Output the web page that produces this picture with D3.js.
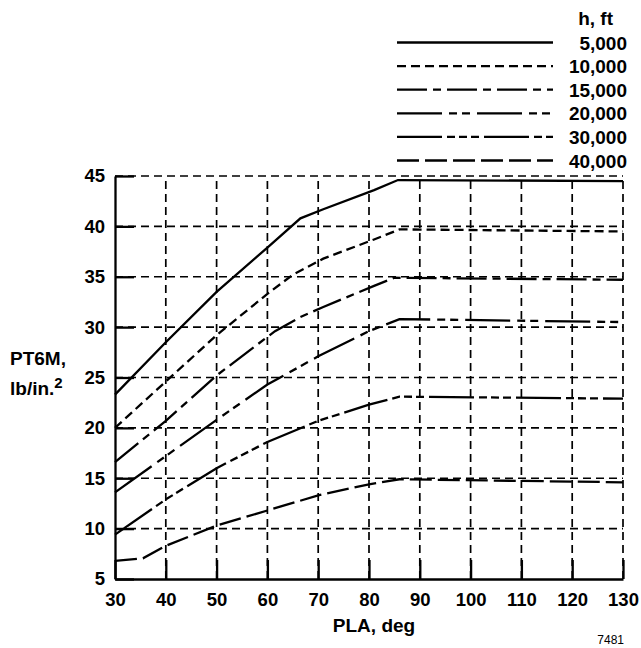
<!DOCTYPE html>
<html>
<head>
<meta charset="utf-8">
<script src="https://cdn.jsdelivr.net/npm/d3@7"></script>
<style>
    body { margin: 0; background: #fff; }
    svg { font-family: "Liberation Sans", Arial, sans-serif; font-weight: bold; }
</style>
</head>
<body>
<svg id="chart" width="641" height="648"></svg>
<script>
// PT6M vs PLA for several altitudes
const ALTITUDES = ['5,000', '10,000', '15,000', '20,000', '30,000', '40,000'];

// [PLA deg, PT6M lb/in.^2]
const H5000  = [[30, 23.3], [40, 28.5], [50, 33.5], [60, 37.9], [66.5, 40.8], [71, 41.7], [81, 43.6], [85.7, 44.6], [130, 44.5]];
const H10000 = [[30, 20.0], [40, 24.6], [50, 29.2], [60, 33.3], [65, 35.2], [71, 36.8], [81, 38.7], [86, 39.7], [130, 39.5]];
const H15000 = [[30, 16.6], [40, 20.7], [50, 25.2], [61.5, 29.6], [66.5, 31.0], [71, 32.0], [81, 34.1], [85, 34.9], [130, 34.7]];
const H20000 = [[30, 13.6], [40, 17.2], [50, 20.8], [60, 24.3], [70, 27.1], [80, 29.6], [86, 30.8], [130, 30.5]];
const H30000 = [[30, 9.4], [40, 12.9], [50, 16.0], [60, 18.6], [70, 20.7], [80, 22.3], [86, 23.1], [130, 22.9]];
const H40000 = [[30, 6.8], [35.5, 7.05], [40, 8.3], [50, 10.3], [60, 11.8], [70, 13.3], [80, 14.4], [86, 14.9], [130, 14.6]];
const SERIES = [H5000, H10000, H15000, H20000, H30000, H40000];

const X_TICKS = [30, 40, 50, 60, 70, 80, 90, 100, 110, 120, 130];
const Y_TICKS = [5, 10, 15, 20, 25, 30, 35, 40, 45];

// line styles per altitude (same order as ALTITUDES)
const DASHES = [null, '9,5', '30,6,8,6', '45,7,8,5,8,7', '45,5,8,4,8,4,8,5', '22,6'];

const PLOT = { left: 115, right: 623, top: 176, bottom: 579 };

const svg = d3.select('#chart');

const x = d3.scaleLinear().domain([30, 130]).range([PLOT.left, PLOT.right]);
const y = d3.scaleLinear().domain([5, 45]).range([PLOT.bottom, PLOT.top]);

// dashed grid (top and right edges are grid lines too)
const grid = svg.append('g')
    .attr('stroke', '#000')
    .attr('stroke-width', 1.7)
    .attr('stroke-dasharray', '8,5');

grid.selectAll('line.h')
    .data(Y_TICKS.slice(1))
    .join('line')
    .attr('class', 'h')
    .attr('x1', x(30)).attr('x2', x(130))
    .attr('y1', d => y(d)).attr('y2', d => y(d));

grid.selectAll('line.v')
    .data(X_TICKS.slice(1))
    .join('line')
    .attr('class', 'v')
    .attr('y1', y(5)).attr('y2', y(45))
    .attr('x1', d => x(d)).attr('x2', d => x(d));

// axes with inward solid ticks
const xAxis = svg.append('g')
    .attr('transform', `translate(0,${PLOT.bottom})`)
    .call(d3.axisBottom(x).tickValues(X_TICKS).tickSize(-19).tickSizeOuter(0).tickPadding(14));

const yAxis = svg.append('g')
    .attr('transform', `translate(${PLOT.left},0)`)
    .call(d3.axisLeft(y).tickValues(Y_TICKS).tickSize(-19).tickSizeOuter(0).tickPadding(10));

[xAxis, yAxis].forEach(ax => {
    ax.select('.domain').attr('stroke-width', 2.3);
    ax.selectAll('.tick line').attr('stroke-width', 2.3);
    ax.selectAll('.tick text')
        .attr('font-size', 18.5)
        .attr('font-weight', 'bold')
        .attr('font-family', '"Liberation Sans", Arial, sans-serif')
        .attr('fill', '#000');
});

// curves
const line = d3.line()
    .x(d => x(d[0]))
    .y(d => y(d[1]));

svg.append('g')
    .selectAll('path')
    .data(SERIES)
    .join('path')
    .attr('fill', 'none')
    .attr('stroke', '#000')
    .attr('stroke-width', 2.3)
    .attr('stroke-dasharray', (d, i) => DASHES[i])
    .attr('d', line);

// legend
const legend = svg.append('g');
legend.append('text')
    .attr('x', 613).attr('y', 25)
    .attr('text-anchor', 'end')
    .attr('font-size', 19)
    .text('h, ft');

const rows = legend.selectAll('g.row')
    .data(ALTITUDES)
    .join('g')
    .attr('class', 'row')
    .attr('transform', (d, i) => `translate(0,${42.5 + i * 23.6})`);

rows.append('line')
    .attr('x1', 397).attr('x2', 553)
    .attr('stroke', '#000')
    .attr('stroke-width', 2.3)
    .attr('stroke-dasharray', (d, i) => DASHES[i]);

rows.append('text')
    .attr('x', 627).attr('y', 7)
    .attr('text-anchor', 'end')
    .attr('font-size', 19)
    .text(d => d);

// axis titles
svg.append('text')
    .attr('x', 374).attr('y', 632)
    .attr('text-anchor', 'middle')
    .attr('font-size', 19)
    .text('PLA, deg');

const yTitle = svg.append('text').attr('font-size', 19);
yTitle.append('tspan').attr('x', 10).attr('y', 365).text('PT6M,');
yTitle.append('tspan').attr('x', 10).attr('y', 395).text('lb/in.');
yTitle.append('tspan').attr('dy', -7).attr('font-size', 15).text('2');

// figure number
svg.append('text')
    .attr('x', 624).attr('y', 644)
    .attr('text-anchor', 'end')
    .attr('font-size', 12)
    .attr('font-weight', 'normal')
    .text('7481');
</script>
</body>
</html>
